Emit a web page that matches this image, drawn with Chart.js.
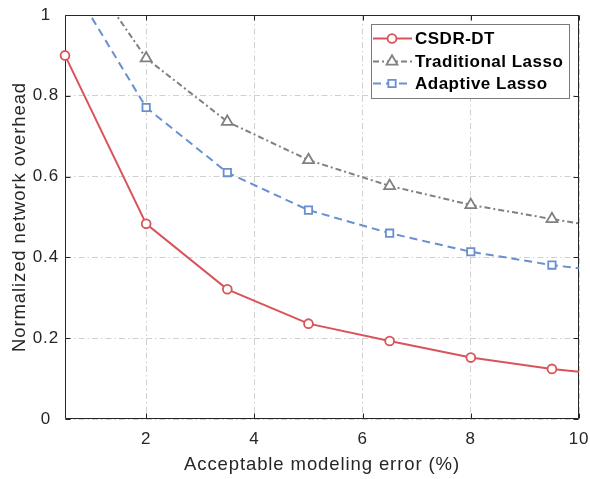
<!DOCTYPE html>
<html>
<head>
<meta charset="utf-8">
<script src="https://cdn.jsdelivr.net/npm/chart.js@4.4.1/dist/chart.umd.min.js"></script>
<style>
  html, body { margin: 0; padding: 0; background: #fff; }
  #wrap { width: 590px; height: 479px; position: relative; }
</style>
</head>
<body>
<div id="wrap"><canvas id="c" width="590" height="479"></canvas></div>
<script>
// ---- data ----
const xValues    = [0.5, 2, 3.5, 5, 6.5, 8, 9.5, 10];
const csdrDT     = [0.900, 0.483, 0.321, 0.236, 0.193, 0.152, 0.124, 0.117];
const tradLasso  = [1.184, 0.893, 0.736, 0.641, 0.577, 0.530, 0.495, 0.484];
const adaptLasso = [1.103, 0.771, 0.610, 0.517, 0.460, 0.414, 0.381, 0.373];
const markerShown = [true, true, true, true, true, true, true, false];
const xTicks = [2, 4, 6, 8, 10];
const yTicks = [0, 0.2, 0.4, 0.6, 0.8, 1];
const seriesNames = ['CSDR-DT', 'Traditional Lasso', 'Adaptive Lasso'];
const xTitle = 'Acceptable modeling error (%)';
const yTitle = 'Normalized network overhead';

const RED = '#d9545a', GRAY = '#808080', BLUE = '#6a8fd0';
const TEXT = '#262626';
const FONT = "'Liberation Sans', Arial, Helvetica, sans-serif";
const SPACING = '0.9px';

function pts(ys) { return xValues.map((x, i) => ({ x: x, y: ys[i] })); }
function markerRadius(r) {
  return ctx => (markerShown[ctx.dataIndex] && ctx.raw && ctx.raw.y <= 1) ? r : 0;
}
const CLIP = { left: 8, right: 8, top: 0, bottom: 8 };

const datasets = [
  { label: seriesNames[0], data: pts(csdrDT), borderColor: RED, borderWidth: 2, borderDash: [],
    pointStyle: 'circle', pointRadius: markerRadius(4.4), pointBorderWidth: 1.8,
    pointBorderColor: RED, pointBackgroundColor: '#fff', order: 1, clip: CLIP },
  { label: seriesNames[1], data: pts(tradLasso), borderColor: GRAY, borderWidth: 2, borderDash: [6, 3, 2, 3],
    pointStyle: 'triangle', pointRadius: markerRadius(6.3), pointBorderWidth: 1.8,
    pointBorderColor: GRAY, pointBackgroundColor: '#fff', order: 3, clip: CLIP },
  { label: seriesNames[2], data: pts(adaptLasso), borderColor: BLUE, borderWidth: 2, borderDash: [8, 5],
    pointStyle: 'rect', pointRadius: markerRadius(5.2), pointBorderWidth: 1.8,
    pointBorderColor: BLUE, pointBackgroundColor: '#fff', order: 2, clip: CLIP }
];

// wider text spacing like the reference rendering
const spacingPlugin = {
  id: 'spacing',
  beforeUpdate(chart) { chart.ctx.letterSpacing = SPACING; },
  beforeDraw(chart) { chart.ctx.letterSpacing = SPACING; }
};

// box + inward ticks
const framePlugin = {
  id: 'frame',
  beforeDatasetsDraw(chart) {
    const { ctx, chartArea: a, scales } = chart;
    ctx.save();
    ctx.strokeStyle = TEXT;
    ctx.lineWidth = 1;
    ctx.setLineDash([]);
    ctx.beginPath();
    const L = Math.round(a.left) + 0.5, R = Math.round(a.right) - 0.5;
    const T = Math.round(a.top) + 0.5, B = Math.round(a.bottom) - 0.5;
    ctx.rect(L, T, R - L, B - T);
    const tl = 5;
    xTicks.forEach(v => {
      const x = Math.round(scales.x.getPixelForValue(v)) + 0.5;
      ctx.moveTo(x, B); ctx.lineTo(x, B - tl);
      ctx.moveTo(x, T); ctx.lineTo(x, T + tl);
    });
    yTicks.forEach(v => {
      const y = Math.round(scales.y.getPixelForValue(v)) + 0.5;
      ctx.moveTo(L, y); ctx.lineTo(L + tl, y);
      ctx.moveTo(R, y); ctx.lineTo(R - tl, y);
    });
    ctx.stroke();
    ctx.restore();
  }
};

// MATLAB-like legend box with line samples
const legendPlugin = {
  id: 'mlegend',
  afterDraw(chart) {
    const { ctx } = chart;
    const bx = 371.5, by = 24.5, bw = 198, bh = 74;
    ctx.save();
    ctx.fillStyle = '#fff';
    ctx.strokeStyle = '#7a7a7a';
    ctx.lineWidth = 1;
    ctx.setLineDash([]);
    ctx.fillRect(bx, by, bw, bh);
    ctx.strokeRect(bx, by, bw, bh);
    const rows = [38.5, 61.5, 83.5];
    chart.data.datasets.forEach((ds, i) => {
      const y = rows[i];
      ctx.save();
      ctx.strokeStyle = ds.borderColor;
      ctx.lineWidth = ds.borderWidth;
      ctx.setLineDash(ds.borderDash);
      ctx.beginPath();
      ctx.moveTo(373, y); ctx.lineTo(412, y);
      ctx.stroke();
      ctx.setLineDash([]);
      ctx.fillStyle = '#fff';
      ctx.strokeStyle = ds.pointBorderColor;
      ctx.lineWidth = ds.pointBorderWidth;
      const r = ds.pointStyle === 'circle' ? 4.4 : ds.pointStyle === 'triangle' ? 6.3 : 5.2;
      Chart.helpers.drawPoint(ctx, { pointStyle: ds.pointStyle, radius: r, rotation: 0, borderWidth: ds.pointBorderWidth }, 392, y);
      ctx.restore();
      ctx.letterSpacing = '0.5px';
      ctx.fillStyle = '#000';
      ctx.font = "bold 17px " + FONT;
      ctx.textBaseline = 'middle';
      ctx.textAlign = 'left';
      ctx.fillText(ds.label, 415, y + 0.5);
    });
    ctx.restore();
  }
};

const gridCfg = {
  color: '#d0d0d0',
  lineWidth: 1,
  drawTicks: false
};
const gridDash = [6, 3, 1.5, 3];

new Chart(document.getElementById('c'), {
  type: 'line',
  data: { datasets: datasets },
  plugins: [spacingPlugin, framePlugin, legendPlugin],
  options: {
    responsive: false,
    animation: false,
    events: [],
    layout: { padding: { top: 15, right: 11, left: 0, bottom: 0 } },
    plugins: { legend: { display: false }, tooltip: { enabled: false } },
    elements: { line: { tension: 0 } },
    scales: {
      x: {
        type: 'linear', min: 0.5, max: 10,
        afterBuildTicks: s => { s.ticks = xTicks.map(v => ({ value: v })); },
        afterFit: s => { s.height = 60; s.paddingLeft = 0; s.paddingRight = 0; },
        grid: Object.assign({}, gridCfg),
        border: { display: false, dash: gridDash },
        ticks: { color: TEXT, font: { family: FONT, size: 17 }, padding: 10, maxRotation: 0,
                 callback: v => String(v) },
        title: { display: true, text: xTitle, color: TEXT, font: { family: FONT, size: 18.5 },
                 padding: { top: 0, bottom: 3 } }
      },
      y: {
        type: 'linear', min: 0, max: 1,
        afterBuildTicks: s => { s.ticks = yTicks.map(v => ({ value: v })); },
        afterFit: s => { s.width = 65; s.paddingTop = 0; s.paddingBottom = 0; },
        grid: Object.assign({}, gridCfg),
        border: { display: false, dash: gridDash },
        ticks: { color: TEXT, font: { family: FONT, size: 17 }, padding: 6, crossAlign: 'center',
                 callback: v => (v === 0 ? '0' : v === 1 ? '1' : v.toFixed(1)) },
        title: { display: true, text: yTitle, color: TEXT, font: { family: FONT, size: 18.5 },
                 padding: { top: 9, bottom: 0 } }
      }
    }
  }
});
</script>
</body>
</html>
